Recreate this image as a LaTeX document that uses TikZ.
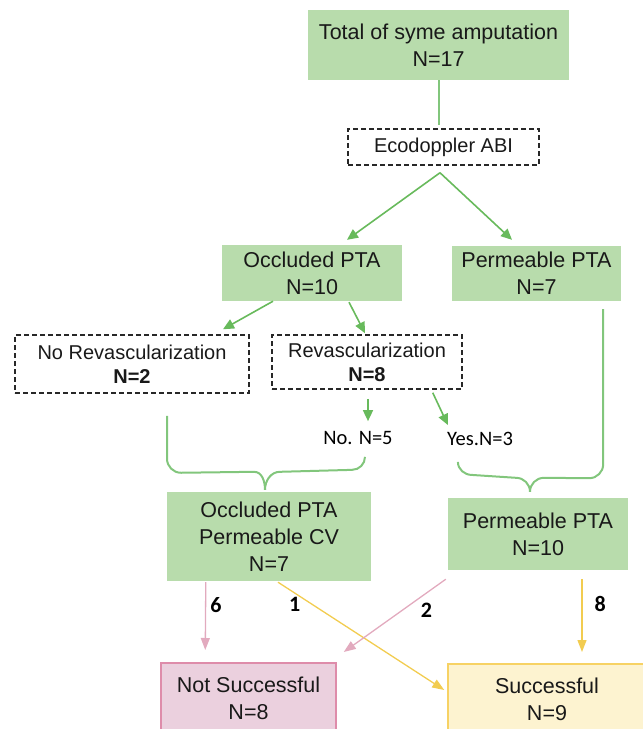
\documentclass[tikz,border=0pt]{standalone}
\usepackage{fontspec}
\setmainfont{Liberation Sans}
\newfontfamily\calibriFont{Carlito}
\usetikzlibrary{arrows.meta, positioning, calc}
\definecolor{boxGreen}{RGB}{184,220,172}
\definecolor{arrowGreenC}{RGB}{104,186,92}
\definecolor{braceGreen}{RGB}{130,198,124}
\definecolor{failPink}{RGB}{235,208,222}
\definecolor{failPinkLine}{RGB}{222,140,170}
\definecolor{arrowPinkC}{RGB}{226,170,190}
\definecolor{winYellow}{RGB}{253,243,208}
\definecolor{winYellowLine}{RGB}{247,210,100}
\definecolor{arrowYellowC}{RGB}{242,204,80}
\definecolor{dashGray}{RGB}{40,40,40}
\tikzset{
    % Base Block Style
    block/.style={
        rectangle,
        inner sep=0pt,
        align=center,
        text=black!90,
        font=\fontsize{21.5}{27}\selectfont
    },
    % Specific Role Styles
    stepGreen/.style={block, fill=boxGreen},
    stepDashed/.style={block, draw=dashGray, dash pattern=on 5pt off 3pt, line width=1.5pt, font=\fontsize{20}{24}\selectfont},
    stepFail/.style={block, fill=failPink, draw=failPinkLine, line width=1.5pt, anchor=north, inner ysep=14pt},
    stepWin/.style={block, fill=winYellow, draw=winYellowLine, line width=1.5pt, anchor=north, inner ysep=14pt},
    branchText/.style={inner sep=0pt, font=\calibriFont\fontsize{20.5}{20.5}\selectfont},
    % Arrow & Label Styles
    arrowGreen/.style={-{Triangle[length=11pt,width=10pt]}, line width=1.6pt, draw=arrowGreenC},
    arrowPink/.style={-{Triangle[length=12pt,width=9pt]}, line width=1.3pt, draw=arrowPinkC},
    arrowYellow/.style={-{Triangle[length=12pt,width=9pt]}, line width=1.3pt, draw=arrowYellowC},
    braceLine/.style={line width=2pt, draw=braceGreen},
    countLabel/.style={font=\calibriFont\bfseries\fontsize{22}{22}\selectfont, inner sep=0pt}
}

\begin{document}
\begin{tikzpicture}[x=1pt, y=-1pt]
    \useasboundingbox (0,0) rectangle (643,729);

    % --- TOP (Screening) ---
    \node (total) [stepGreen, minimum width=261pt, minimum height=70pt] at (438.5,45) {Total of syme amputation\\N=17};
    \node (eco) [stepDashed, minimum width=191pt, minimum height=36pt] at (443.5,147) {Ecodoppler ABI};

    % --- MIDDLE (PTA status) ---
    \node (occl) [stepGreen, minimum width=180pt, minimum height=56pt] at (312,273) {Occluded PTA\\N=10};
    \node (permA) [stepGreen, minimum width=169pt, minimum height=55pt] at (536.5,273.5) {Permeable PTA\\N=7};

    \node (noRev) [stepDashed, minimum width=234pt, minimum height=58pt] at (132,364) {No Revascularization\\\textbf{N=2}};
    \node (rev) [stepDashed, minimum width=190pt, minimum height=54pt] at (367,362) {Revascularization\\\textbf{N=8}};

    \node (noTxt) [branchText] at (358,438) {No. N=5};
    \node (yesTxt) [branchText] at (480,439) {Yes.N=3};

    % --- REGROUPED ---
    \node (occlCV) [stepGreen, minimum width=204pt, minimum height=89pt] at (269,536.5) {Occluded PTA\\Permeable CV\\N=7};
    \node (permB) [stepGreen, minimum width=180pt, minimum height=72pt] at (538,534) {Permeable PTA\\N=10};

    % --- OUTCOME ---
    \node (fail) [stepFail, minimum width=175pt] at (248.5,662) {Not Successful\\N=8};
    \node (win) [stepWin, minimum width=198pt] at (547,663) {Successful\\N=9};

    % --- Arrows ---
    \draw [braceLine] (total.south) -- ([yshift=3pt]total.south |- eco.north);
    \draw [arrowGreen] ([xshift=-3.5pt,yshift=-7pt]eco.south) -- ([xshift=35pt,yshift=5pt]occl.north);
    \draw [arrowGreen] ([xshift=-3.5pt,yshift=-7pt]eco.south) -- ([xshift=-24.5pt,yshift=6pt]permA.north);
    \draw [arrowGreen] ([xshift=-39pt]occl.south) -- ([xshift=91pt,yshift=5pt]noRev.north);
    \draw [arrowGreen] ([xshift=37pt,yshift=-1pt]occl.south) -- ([xshift=-2pt,yshift=1pt]rev.north);
    \draw [arrowGreen] ([xshift=1pt,yshift=-9pt]rev.south) -- ([xshift=10pt,yshift=10pt]noTxt.north);
    \draw [arrowGreen] ([xshift=-30pt,yshift=-3pt]rev.south east) -- ([xshift=1pt,yshift=7pt]yesTxt.north west);

    % --- Braces ---
    \coordinate (braceLA) at ($(noRev.south)+(35,22)$);
    \coordinate (braceLB) at ($(noTxt.south)+(7,12)$);
    \coordinate (braceRA) at ($(yesTxt.south west)+(11,16)$);
    \coordinate (braceRB) at ($(permA.south east)+(-18,8)$);
    \draw [braceLine] (braceLA) -- ++(0,43) to[out=-90,in=180] ++(14,14) -- ([xshift=-15pt,yshift=20pt]occlCV.north) to[out=0,in=90] ([xshift=-4pt,yshift=2pt]occlCV.north);
    \draw [braceLine] (braceLB) to[out=-90,in=0] ++(-13,13) -- ([xshift=11pt,yshift=20pt]occlCV.north) to[out=180,in=90] ([xshift=-4pt,yshift=2pt]occlCV.north);
    \draw [braceLine] (braceRA) to[out=-90,in=180] ++(14,13) -- ([xshift=-22pt,yshift=20pt]permB.north) to[out=0,in=90] ([xshift=-8pt,yshift=6pt]permB.north);
    \draw [braceLine] (braceRB) -- ++(0,155) to[out=-90,in=0] ++(-14,14) -- ([xshift=6pt,yshift=20pt]permB.north) to[out=180,in=90] ([xshift=-8pt,yshift=6pt]permB.north);

    % --- Outcome arrows ---
    \draw [arrowPink] ([xshift=39pt,yshift=-1pt]occlCV.south west) -- ([xshift=45pt,yshift=12pt]fail.north west)
        node [countLabel, pos=.34, right=4pt] {6};
    \draw [arrowYellow] ([xshift=9pt,yshift=-1pt]occlCV.south) -- ([xshift=-3pt,yshift=-27pt]win.north west)
        node [countLabel, pos=.1, below=4pt] {1};
    \draw [arrowPink] ([xshift=-2pt,yshift=-9pt]permB.south west) -- ([xshift=7pt,yshift=10pt]fail.north east)
        node [countLabel, pos=.19, below=9pt] {2};
    \draw [arrowYellow] ([xshift=44pt,yshift=-9pt]permB.south) -- ([xshift=35pt,yshift=11pt]win.north)
        node [countLabel, pos=.34, right=12pt] {8};

\end{tikzpicture}
\end{document}
